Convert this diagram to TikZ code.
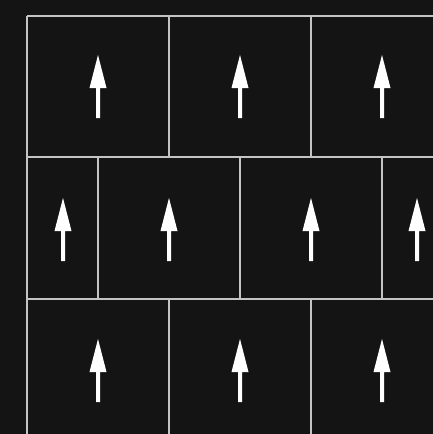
\documentclass[tikz,border=0pt]{standalone}
\begin{document}
\begin{tikzpicture}[x=1pt,y=-1pt,
  gridline/.style={draw=gridgray,line width=2.8pt},
  uparrow/.pic={\fill[white] (0,-31.5) -- (8.5,1.5) -- (2,1.5) -- (2,31.5) -- (-2,31.5) -- (-2,1.5) -- (-8.5,1.5) -- cycle;}]
\definecolor{bgdark}{HTML}{141414}
\definecolor{gridgray}{HTML}{C4C4C4}
\fill[bgdark] (0,0) rectangle (433,434);
\useasboundingbox (0,0) rectangle (433,434);
% horizontal lines
\foreach \y in {16,157,299} \draw[gridline] (27,\y) -- (440,\y);
% left border
\draw[gridline] (27,16) -- (27,440);
% row 1 verticals
\foreach \x in {169,311} \draw[gridline] (\x,16) -- (\x,157);
% row 2 verticals
\foreach \x in {98,240,382} \draw[gridline] (\x,157) -- (\x,299);
% row 3 verticals
\foreach \x in {169,311} \draw[gridline] (\x,299) -- (\x,440);
% arrows
\foreach \x in {98,240,382} \pic at (\x,86.5) {uparrow};
\foreach \x in {63,169,311,417} \pic at (\x,229.5) {uparrow};
\foreach \x in {98,240,382} \pic at (\x,370.5) {uparrow};
\end{tikzpicture}
\end{document}
